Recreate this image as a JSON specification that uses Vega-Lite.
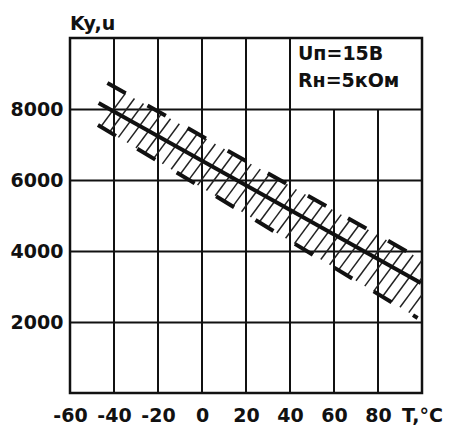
{
  "$schema": "https://vega.github.io/schema/vega-lite/v6.json",
  "width": 352,
  "height": 355,
  "autosize": {"type": "none"},
  "padding": {"left": 70, "top": 38, "right": 29, "bottom": 32},
  "background": "white",
  "config": {
    "view": {"stroke": "#111", "strokeWidth": 2.5},
    "axis": {
      "labelFont": "DejaVu Sans",
      "labelFontWeight": "bold",
      "labelFontSize": 19,
      "labelColor": "#111",
      "ticks": false,
      "domain": false,
      "title": null
    }
  },
  "datasets": {
    "hatch": [
      {"t1": -46, "v1": 7500, "t2": -34.8, "v2": 8439},
      {"t1": -42, "v1": 7351, "t2": -30.7, "v2": 8297},
      {"t1": -38, "v1": 7201, "t2": -26.6, "v2": 8154},
      {"t1": -34, "v1": 7052, "t2": -22.5, "v2": 8013},
      {"t1": -30, "v1": 6902, "t2": -18.4, "v2": 7870},
      {"t1": -26, "v1": 6752, "t2": -14.3, "v2": 7727},
      {"t1": -22, "v1": 6603, "t2": -10.3, "v2": 7586},
      {"t1": -18, "v1": 6453, "t2": -6.2, "v2": 7443},
      {"t1": -14, "v1": 6304, "t2": -2.1, "v2": 7302},
      {"t1": -10, "v1": 6154, "t2": 2.0, "v2": 7159},
      {"t1": -6, "v1": 6004, "t2": 6.1, "v2": 7016},
      {"t1": -2, "v1": 5855, "t2": 10.2, "v2": 6874},
      {"t1": 2, "v1": 5705, "t2": 14.3, "v2": 6732},
      {"t1": 6, "v1": 5556, "t2": 18.4, "v2": 6590},
      {"t1": 10, "v1": 5406, "t2": 22.4, "v2": 6447},
      {"t1": 14, "v1": 5256, "t2": 26.5, "v2": 6305},
      {"t1": 18, "v1": 5107, "t2": 30.6, "v2": 6163},
      {"t1": 22, "v1": 4957, "t2": 34.7, "v2": 6021},
      {"t1": 26, "v1": 4808, "t2": 38.8, "v2": 5879},
      {"t1": 30, "v1": 4658, "t2": 42.9, "v2": 5736},
      {"t1": 34, "v1": 4508, "t2": 47.0, "v2": 5594},
      {"t1": 38, "v1": 4359, "t2": 51.1, "v2": 5452},
      {"t1": 42, "v1": 4209, "t2": 55.1, "v2": 5309},
      {"t1": 46, "v1": 4060, "t2": 59.2, "v2": 5168},
      {"t1": 50, "v1": 3910, "t2": 63.3, "v2": 5025},
      {"t1": 54, "v1": 3760, "t2": 67.4, "v2": 4882},
      {"t1": 58, "v1": 3611, "t2": 71.5, "v2": 4741},
      {"t1": 62, "v1": 3461, "t2": 75.6, "v2": 4598},
      {"t1": 66, "v1": 3312, "t2": 79.7, "v2": 4456},
      {"t1": 70, "v1": 3162, "t2": 83.8, "v2": 4314},
      {"t1": 74, "v1": 3012, "t2": 87.8, "v2": 4171},
      {"t1": 78, "v1": 2863, "t2": 91.9, "v2": 4030},
      {"t1": 82, "v1": 2713, "t2": 96.0, "v2": 3886},
      {"t1": 86, "v1": 2564, "t2": 100, "v2": 3740},
      {"t1": 90, "v1": 2414, "t2": 100, "v2": 3251},
      {"t1": 94, "v1": 2264, "t2": 100, "v2": 2766}
    ],
    "vgrid": [
      {"t": -40, "v0": 0, "v1": 10000},
      {"t": -20, "v0": 0, "v1": 10000},
      {"t": 0, "v0": 0, "v1": 10000},
      {"t": 20, "v0": 0, "v1": 10000},
      {"t": 40, "v0": 0, "v1": 10000},
      {"t": 60, "v0": 0, "v1": 8000},
      {"t": 80, "v0": 0, "v1": 8000}
    ],
    "bounds": [
      {"bound": "upper", "t1": -43, "v1": 8732, "t2": 95, "v2": 3923},
      {"bound": "lower", "t1": -47.3, "v1": 7549, "t2": 98, "v2": 2115}
    ],
    "main": [
      {"t1": -47, "v1": 8170, "t2": 99.5, "v2": 3100}
    ],
    "notes": [
      {"text": "Uп=15В", "t": 43.6, "v": 9380},
      {"text": "Rн=5кОм", "t": 43.6, "v": 8620}
    ],
    "ytitle": [
      {"text": "Ky,u", "t": -60, "v": 10000}
    ]
  },
  "layer": [
    {
      "data": {"name": "vgrid"},
      "mark": {"type": "rule", "color": "#111", "strokeWidth": 2},
      "encoding": {
        "x": {
          "field": "t",
          "type": "quantitative",
          "scale": {"domain": [-60, 100], "nice": false, "zero": false},
          "axis": {
            "values": [-60, -40, -20, 0, 20, 40, 60, 80, 100],
            "labelExpr": "datum.value == 100 ? 'T,°C' : toString(datum.value)",
            "grid": false,
            "labelPadding": 13,
            "labelOverlap": false,
            "labelBound": false,
            "labelFlush": false
          }
        },
        "y": {
          "field": "v0",
          "type": "quantitative",
          "scale": {"domain": [0, 10000], "nice": false},
          "axis": {
            "values": [2000, 4000, 6000, 8000],
            "grid": true,
            "gridColor": "#111",
            "gridWidth": 2,
            "gridOpacity": 1,
            "labelPadding": 7,
            "format": "d"
          }
        },
        "y2": {"field": "v1"}
      }
    },
    {
      "data": {"name": "hatch"},
      "mark": {"type": "rule", "color": "#222", "strokeWidth": 1.5, "clip": true},
      "encoding": {
        "x": {"field": "t1", "type": "quantitative"},
        "y": {"field": "v1", "type": "quantitative"},
        "x2": {"field": "t2"},
        "y2": {"field": "v2"}
      }
    },
    {
      "data": {"name": "bounds"},
      "mark": {"type": "rule", "color": "#111", "strokeWidth": 4, "strokeDash": [21, 25], "strokeCap": "butt"},
      "encoding": {
        "x": {"field": "t1", "type": "quantitative"},
        "y": {"field": "v1", "type": "quantitative"},
        "x2": {"field": "t2"},
        "y2": {"field": "v2"}
      }
    },
    {
      "data": {"name": "main"},
      "mark": {"type": "rule", "color": "#111", "strokeWidth": 4},
      "encoding": {
        "x": {"field": "t1", "type": "quantitative"},
        "y": {"field": "v1", "type": "quantitative"},
        "x2": {"field": "t2"},
        "y2": {"field": "v2"}
      }
    },
    {
      "data": {"name": "notes"},
      "mark": {"type": "text", "align": "left", "baseline": "alphabetic", "font": "DejaVu Sans", "fontWeight": "bold", "fontSize": 19, "color": "#111"},
      "encoding": {
        "x": {"field": "t", "type": "quantitative"},
        "y": {"field": "v", "type": "quantitative"},
        "text": {"field": "text"}
      }
    },
    {
      "data": {"name": "ytitle"},
      "mark": {"type": "text", "align": "left", "baseline": "alphabetic", "dy": -8, "font": "DejaVu Sans", "fontWeight": "bold", "fontSize": 19, "color": "#111"},
      "encoding": {
        "x": {"field": "t", "type": "quantitative"},
        "y": {"field": "v", "type": "quantitative"},
        "text": {"field": "text"}
      }
    }
  ]
}
